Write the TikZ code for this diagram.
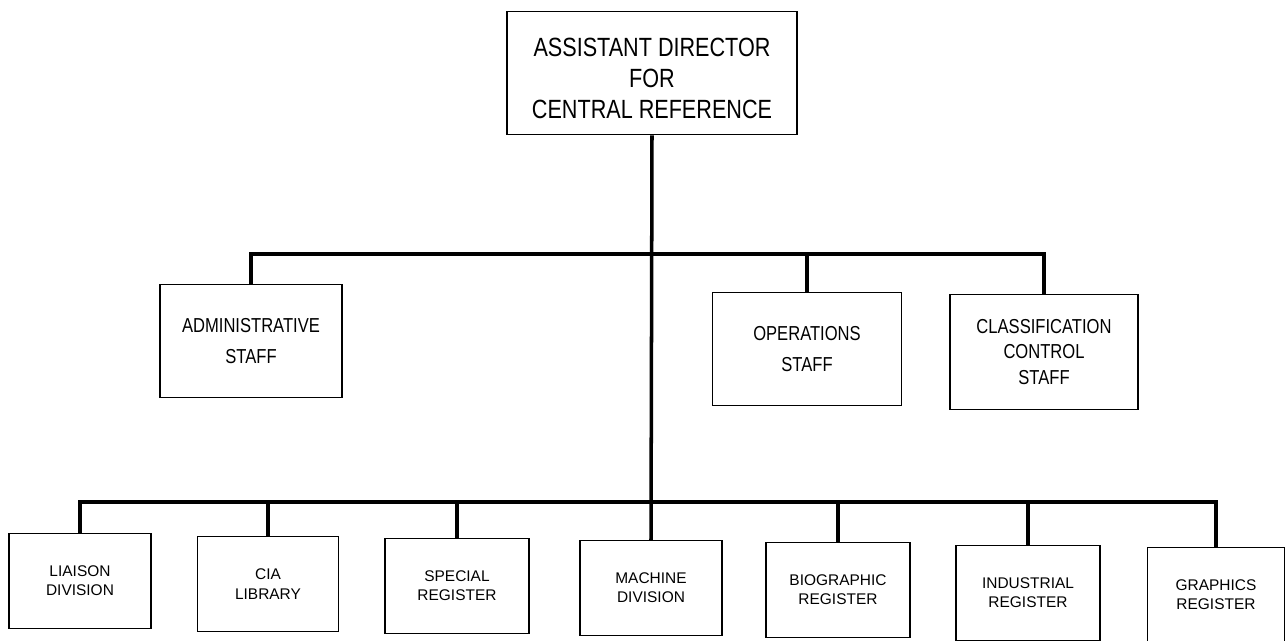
\documentclass[tikz,border=0pt]{standalone}
\usepackage{fontspec}
\setmainfont{Liberation Sans}
\newfontfamily\orgfont[FakeStretch=0.82]{Liberation Sans}
\usetikzlibrary{positioning}

\tikzset{
  link/.style={line width=2pt},
  topbox/.style={draw, line width=1.1pt, align=center, inner sep=0pt,
    font=\orgfont\fontsize{15}{17.6}\selectfont},
  staffbox/.style={draw, line width=0.8pt, align=center, inner sep=0pt,
    font=\orgfont\fontsize{11.5}{18}\selectfont},
  unitbox/.style={draw, line width=0.8pt, align=center, inner sep=0pt,
    font=\fontsize{8.8}{11}\selectfont, minimum height=1.9cm}
}

\begin{document}
\begin{tikzpicture}[x=0.02cm, y=-0.02cm]
    \useasboundingbox (0,0) rectangle (1286,641);

    \node (dir) at (652,73) [topbox, minimum width=5.8cm, minimum height=2.46cm]
      {\rule{0pt}{0.6cm}ASSISTANT DIRECTOR\\FOR\\CENTRAL REFERENCE};

    \node (adm) at (251,341) [staffbox, minimum width=3.64cm, minimum height=2.26cm]
      {ADMINISTRATIVE\\STAFF};
    \node (ops) at (807,349) [staffbox, minimum width=3.78cm, minimum height=2.26cm]
      {OPERATIONS\\STAFF};
    \node (cls) at (1044,352) [staffbox, minimum width=3.76cm, minimum height=2.3cm,
      font=\orgfont\fontsize{11.5}{14.5}\selectfont]
      {CLASSIFICATION\\CONTROL\\STAFF};

    \node (lia) at (80,581) [unitbox, minimum width=2.84cm] {LIAISON\\DIVISION};
    \node (cia) at (268,584) [unitbox, minimum width=2.82cm] {CIA\\LIBRARY};
    \node (spr) at (457,586) [unitbox, minimum width=2.88cm] {SPECIAL\\REGISTER};
    \node (mch) at (651,588) [unitbox, minimum width=2.84cm] {MACHINE\\DIVISION};
    \node (bio) at (838,590) [unitbox, minimum width=2.88cm] {BIOGRAPHIC\\REGISTER};
    \node (ind) at (1028,593) [unitbox, minimum width=2.88cm] {INDUSTRIAL\\REGISTER};
    \node (gra) at (1216,595) [unitbox, minimum width=2.74cm] {GRAPHICS\\REGISTER};

    \coordinate (midbus) at (652,254);
    \coordinate (lowbus) at (652,502);

     % trunk
     \draw[link] (dir.south) -- (mch.north);

     % staff level
     \draw[link] (adm.north) |- (midbus) -| (cls.north);
     \draw[link] (ops.north) -- (ops.north |- midbus);

     % division level
     \draw[link] (lia.north) |- (lowbus) -| (gra.north);
     \draw[link] (cia.north) -- (cia.north |- lowbus);
     \draw[link] (spr.north) -- (spr.north |- lowbus);
     \draw[link] (bio.north) -- (bio.north |- lowbus);
     \draw[link] (ind.north) -- (ind.north |- lowbus);
  \end{tikzpicture}
\end{document}
